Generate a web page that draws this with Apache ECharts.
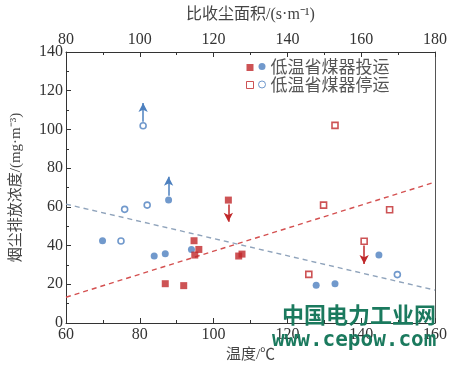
<!DOCTYPE html>
<html>
<head>
<meta charset="utf-8">
<script src="https://cdn.jsdelivr.net/npm/echarts@6/dist/echarts.min.js"></script>
<style>
html,body{margin:0;padding:0;background:#fff;}
#c{width:459px;height:371px;}
</style>
</head>
<body>
<div id="c"></div>
<script>
// Temperature (bottom axis) – red squares
const tempOnX = [86.9, 91.9, 94.7, 96.0, 94.9, 104.0, 106.8, 107.7];
const tempOnY = [20.3, 19.3, 42.5, 38.0, 35.1, 63.5, 34.6, 35.6];
const tempOffX = [132.9, 129.8, 147.7, 140.8, 125.8];
const tempOffY = [102.1, 60.9, 58.5, 42.2, 25.1];
// Specific collection area (top axis) – blue circles
const areaOnX = [89.9, 103.9, 106.9, 107.8, 114.0, 147.8, 152.9, 164.8];
const areaOnY = [42.5, 34.6, 35.8, 63.5, 38.0, 19.5, 20.3, 35.1];
const areaOffX = [95.9, 100.9, 102.0, 94.9, 169.8];
const areaOffY = [58.7, 101.9, 60.9, 42.4, 25.0];
// Trend lines (endpoints)
const tempTrendX = [60, 160];
const tempTrendY = [13.3, 72.8];
const areaTrendX = [80, 180];
const areaTrendY = [61.4, 17.0];
// Arrows: [x, fromY, toY]
const tempOnArrow = [104.0, 61.2, 52.3];
const tempOffArrow = [140.8, 40.0, 30.5];
const areaOnArrow = [107.8, 65.8, 75.6];
const areaOffArrow = [100.9, 104.0, 113.6];
// Tick settings
const xTempTicks = {min: 60, max: 160, interval: 20};
const xAreaTicks = {min: 80, max: 180, interval: 20};
const yTicks = {min: 0, max: 140, interval: 20};

const RED = '#c0282a';
const BLUE = '#4d80bf';
const AXIS = '#333';
const NUMFONT = "'Liberation Serif', 'Times New Roman', serif";
const CJK = "'Noto Sans CJK SC', sans-serif";
const MIXED = "'Liberation Serif', 'Noto Sans CJK SC', serif";

const zip = (xs, ys) => xs.map((x, i) => [x, ys[i]]);
const arrowLine = (a, color) => ({
  silent: true,
  symbol: ['none', 'arrow'],
  symbolSize: [7, 9],
  label: {show: false},
  lineStyle: {color: color, width: 1.5, type: 'solid'},
  data: [[{coord: [a[0], a[1]]}, {coord: [a[0], a[2]]}]]
});

function xAxisCfg(t, pos, name, gap, nameSize) {
  return {
    type: 'value', position: pos, min: t.min, max: t.max, interval: t.interval,
    name: name, nameLocation: 'middle', nameGap: gap,
    nameTextStyle: {fontFamily: MIXED, fontSize: nameSize, color: '#444'},
    axisLine: {show: true, onZero: false, lineStyle: {color: AXIS, width: 1}},
    axisTick: {show: true, inside: true, length: 5, lineStyle: {color: AXIS}},
    minorTick: {show: true, splitNumber: 2, length: 3, lineStyle: {color: AXIS}},
    axisLabel: {fontFamily: NUMFONT, fontSize: 16, color: AXIS, margin: 4},
    splitLine: {show: false}
  };
}

const chart = echarts.init(document.getElementById('c'));
chart.setOption({
  animation: false,
  backgroundColor: '#fff',
  grid: {left: 66, right: 24, top: 52, bottom: 48, containLabel: false},
  xAxis: [
    xAxisCfg(xTempTicks, 'bottom', '温度/℃', 22, 15),
    xAxisCfg(xAreaTicks, 'top', '比收尘面积/(s·m⁻¹)', 29, 16)
  ],
  yAxis: [
    {
      type: 'value', min: yTicks.min, max: yTicks.max, interval: yTicks.interval,
      name: '烟尘排放浓度/(mg·m⁻³)', nameLocation: 'middle', nameGap: 42, nameRotate: 90,
      nameTextStyle: {fontFamily: MIXED, fontSize: 15, color: '#444'},
      axisLine: {show: true, onZero: false, lineStyle: {color: AXIS, width: 1}},
      axisTick: {show: true, inside: true, length: 5, lineStyle: {color: AXIS}},
      minorTick: {show: true, splitNumber: 2, length: 3, lineStyle: {color: AXIS}},
      axisLabel: {fontFamily: NUMFONT, fontSize: 16, color: AXIS, margin: 3},
      splitLine: {show: false}
    },
    {
      type: 'value', position: 'right', min: yTicks.min, max: yTicks.max, interval: yTicks.interval,
      axisLine: {show: true, onZero: false, lineStyle: {color: '#555', width: 1}},
      axisTick: {show: false}, axisLabel: {show: false}, splitLine: {show: false}
    }
  ],
  legend: [
    {
      data: [
        {name: '投运-温度'},
        {name: '停运-温度', itemStyle: {borderWidth: 1}}
      ],
      orient: 'vertical', left: 241, top: 59,
      itemWidth: 7, itemHeight: 7, itemGap: 10, formatter: () => '',
      textStyle: {fontSize: 17, fontFamily: CJK}, selectedMode: false
    },
    {
      data: [
        {name: '投运-比收尘面积'},
        {name: '停运-比收尘面积', itemStyle: {borderWidth: 1}}
      ],
      orient: 'vertical', left: 253, top: 53,
      itemWidth: 7, itemHeight: 7, itemGap: 1,
      formatter: n => n.startsWith('投运') ? '低温省煤器投运' : '低温省煤器停运',
      textStyle: {fontSize: 17, fontFamily: CJK, color: '#555'}, selectedMode: false
    }
  ],
  series: [
    {
      name: '温度趋势', type: 'line', xAxisIndex: 0, yAxisIndex: 0, data: zip(tempTrendX, tempTrendY),
      showSymbol: false, symbol: 'none', silent: true,
      lineStyle: {color: '#d45050', width: 1.4, type: [5, 4]}, z: 1
    },
    {
      name: '比收尘面积趋势', type: 'line', xAxisIndex: 1, yAxisIndex: 0, data: zip(areaTrendX, areaTrendY),
      showSymbol: false, symbol: 'none', silent: true,
      lineStyle: {color: '#8fa3bb', width: 1.4, type: [5, 4]}, z: 1
    },
    {
      name: '投运-温度', type: 'scatter', xAxisIndex: 0, yAxisIndex: 0,
      data: zip(tempOnX, tempOnY), symbol: 'rect', symbolSize: 7,
      itemStyle: {color: RED},
      markLine: arrowLine(tempOnArrow, RED), z: 3
    },
    {
      name: '停运-温度', type: 'scatter', xAxisIndex: 0, yAxisIndex: 0,
      data: zip(tempOffX, tempOffY), symbol: 'rect', symbolSize: 6,
      itemStyle: {color: '#fff', borderColor: RED, borderWidth: 1.6},
      markLine: arrowLine(tempOffArrow, RED), z: 3
    },
    {
      name: '投运-比收尘面积', type: 'scatter', xAxisIndex: 1, yAxisIndex: 0,
      data: zip(areaOnX, areaOnY), symbol: 'circle', symbolSize: 7,
      itemStyle: {color: BLUE},
      markLine: arrowLine(areaOnArrow, BLUE), z: 2
    },
    {
      name: '停运-比收尘面积', type: 'scatter', xAxisIndex: 1, yAxisIndex: 0,
      data: zip(areaOffX, areaOffY), symbol: 'circle', symbolSize: 6,
      itemStyle: {color: '#fff', borderColor: BLUE, borderWidth: 1.6},
      markLine: arrowLine(areaOffArrow, BLUE), z: 2
    }
  ],
  graphic: [
    {
      type: 'text', left: 282, top: 304, z: 100, silent: true,
      style: {text: '中国电力工业网', fontSize: 22, fontWeight: 'bold', fontFamily: CJK, fill: '#1b7a5e'}
    },
    {
      type: 'text', left: 272, top: 330, z: 100, silent: true,
      style: {text: 'www.cepow.com', fontSize: 21, fontWeight: 'bold', fontFamily: "'DejaVu Sans Mono', monospace", fill: '#1b7a5e'}
    }
  ]
});
</script>
</body>
</html>
